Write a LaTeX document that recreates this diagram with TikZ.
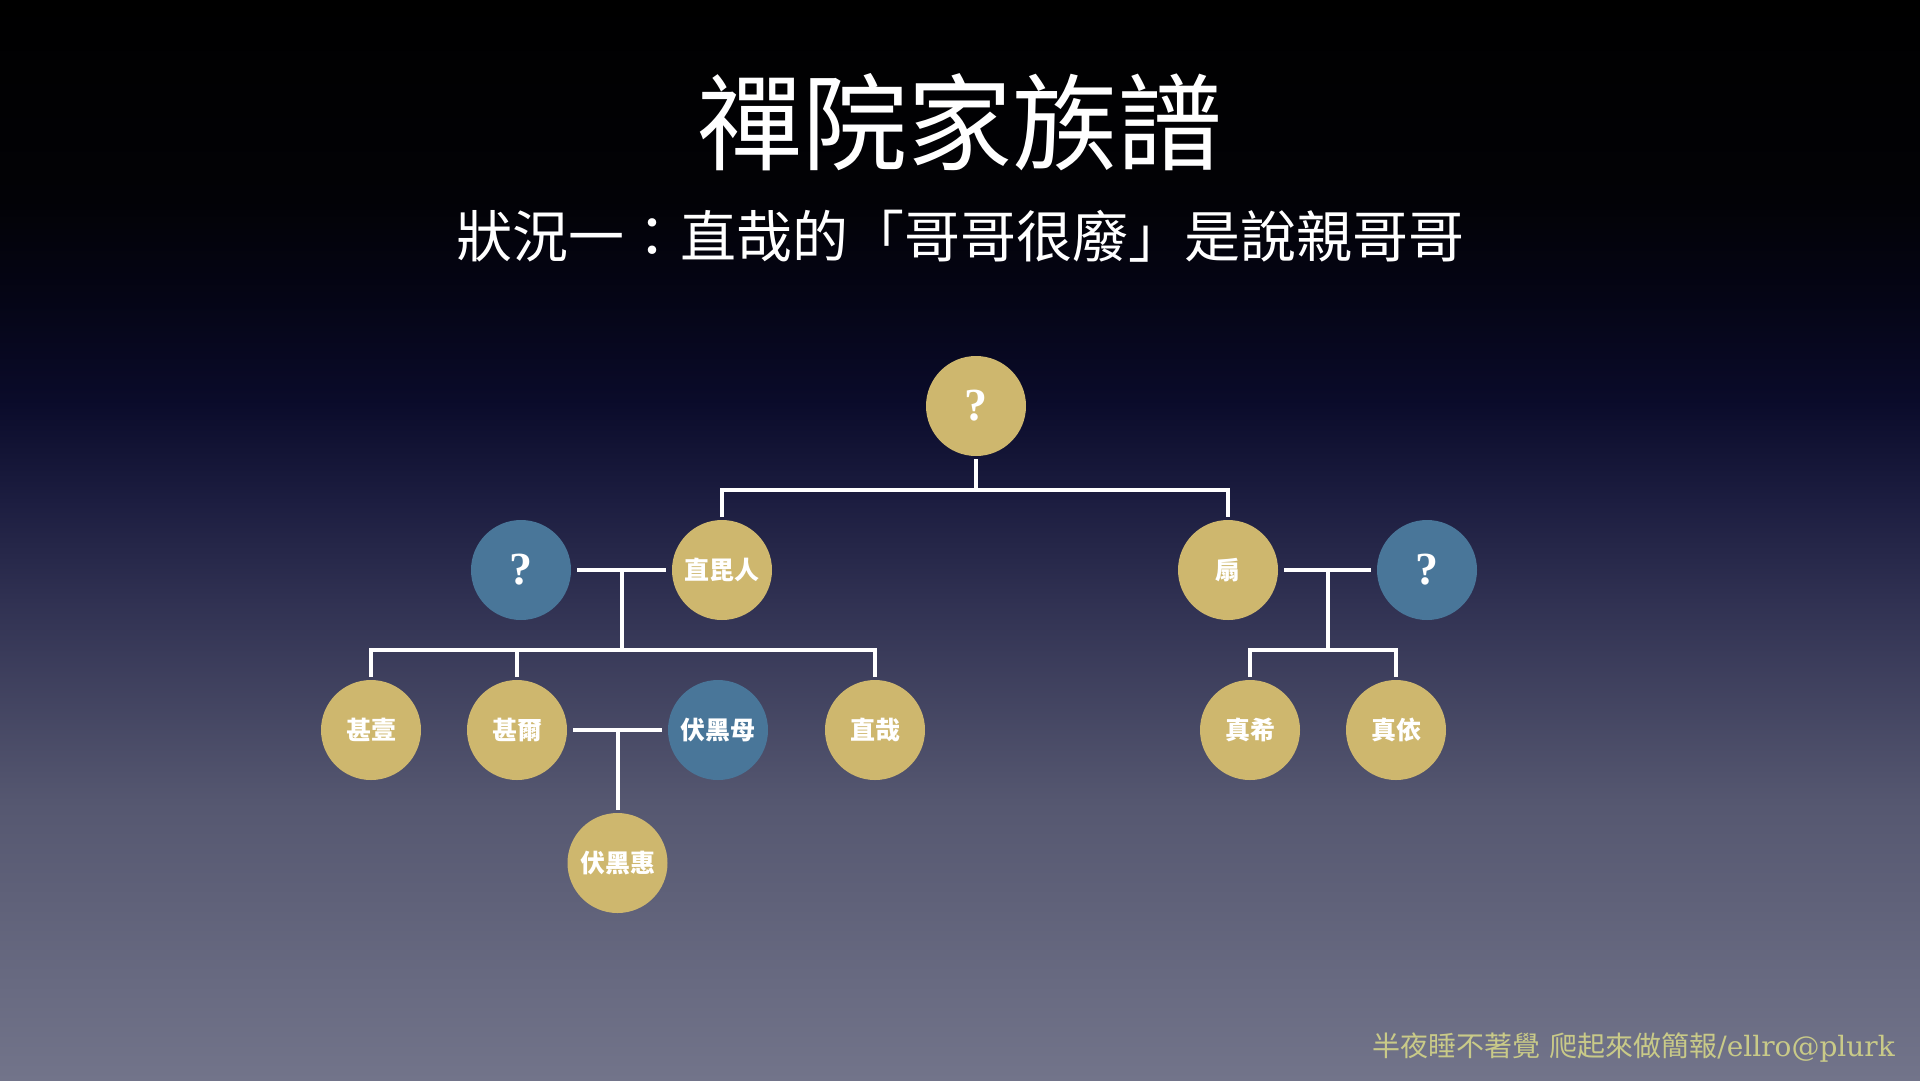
\documentclass[tikz,border=0pt]{standalone}
\usepackage{fontspec}
\usetikzlibrary{calc}
\newfontfamily\cjk{Noto Sans CJK TC}
\newfontfamily\seriflat{DejaVu Serif}
\newfontfamily\qfont{Liberation Serif}
\definecolor{gold}{RGB}{206,183,110}
\definecolor{blu}{RGB}{73,118,153}
\definecolor{foot}{RGB}{201,202,136}
\definecolor{bgA}{RGB}{0,0,0}
\definecolor{bgB}{RGB}{2,2,6}
\definecolor{bgC}{RGB}{5,5,22}
\definecolor{bgD}{RGB}{10,11,42}
\definecolor{bgE}{RGB}{28,29,64}
\definecolor{bgF}{RGB}{48,49,82}
\definecolor{bgG}{RGB}{85,87,112}
\definecolor{bgH}{RGB}{114,116,138}
\begin{document}
\begin{tikzpicture}[x=1pt,y=-1pt,
  person/.style={circle,minimum size=100pt,inner sep=0pt,outer sep=3pt,text=white,
    font=\cjk\bfseries\fontsize{25}{25}\selectfont},
  goldp/.style={person,fill=gold},
  bluep/.style={person,fill=blu},
  qmark/.style={font=\qfont\bfseries\fontsize{46}{46}\selectfont},
  link/.style={draw=white,line width=4pt},
  couple/.style={link,shorten <=3pt,shorten >=3pt}]
\useasboundingbox (0,0) rectangle (1920,1080);
% background gradient
\shade[top color=bgA,bottom color=bgB] (0,0) rectangle (1920,201);
\shade[top color=bgB,bottom color=bgC] (0,200) rectangle (1920,301);
\shade[top color=bgC,bottom color=bgD] (0,300) rectangle (1920,401);
\shade[top color=bgD,bottom color=bgE] (0,400) rectangle (1920,501);
\shade[top color=bgE,bottom color=bgF] (0,500) rectangle (1920,601);
\shade[top color=bgF,bottom color=bgG] (0,600) rectangle (1920,801);
\shade[top color=bgG,bottom color=bgH] (0,800) rectangle (1920,1080);
% titles
\node[text=white,font=\cjk\fontsize{105}{105}\selectfont] (title) at (960,122) {禪院家族譜};
\node[text=white,font=\cjk\fontsize{56}{56}\selectfont] (sub) at (960,236) {狀況一：直哉的「哥哥很廢」是說親哥哥};
% people
\node[goldp,qmark] (root) at (976,406) {?};
\node[bluep,qmark] (qL) at (521,570) {?};
\node[goldp] (zbr) at (722,570) {直毘人};
\node[goldp] (ogi) at (1228,570) {扇};
\node[bluep,qmark] (qR) at (1427,570) {?};
\node[goldp] (jinichi) at (371,730) {甚壹};
\node[goldp] (toji) at (517,730) {甚爾};
\node[bluep] (fmom) at (718,730) {伏黑母};
\node[goldp] (naoya) at (875,730) {直哉};
\node[goldp] (maki) at (1250,730) {真希};
\node[goldp] (mai) at (1396,730) {真依};
\node[goldp] (megumi) at (617.5,863) {伏黑惠};
% connectors
\coordinate (j1) at (976,490);
\draw[link] (root.south) -- (j1);
\draw[link] (zbr.north) -- (zbr |- j1) -- (ogi |- j1) -- (ogi.north);
\draw[couple] (qL) -- (zbr);
\coordinate (m1) at ($(qL)!0.5!(zbr)$);
\coordinate (j2) at (0,650);
\draw[link] (m1) -- (m1 |- j2);
\draw[link] (jinichi.north) -- (jinichi |- j2) -- (naoya |- j2) -- (naoya.north);
\draw[link] (toji.north) -- (toji |- j2);
\draw[couple] (toji) -- (fmom);
\coordinate (m2) at ($(toji)!0.5!(fmom)$);
\draw[link] (m2) -- (megumi.north);
\draw[couple] (ogi) -- (qR);
\coordinate (m3) at ($(ogi)!0.5!(qR)$);
\draw[link] (m3) -- (m3 |- j2);
\draw[link] (maki.north) -- (maki |- j2) -- (mai |- j2) -- (mai.north);
% footer
\node[anchor=base east,inner sep=0pt,text=foot,font=\cjk\fontsize{28}{28}\selectfont] (footer) at (1895,1056)
  {半夜睡不著覺\hspace{9pt}爬起來做簡報{\seriflat /ellro@plurk}};
\end{tikzpicture}
\end{document}
